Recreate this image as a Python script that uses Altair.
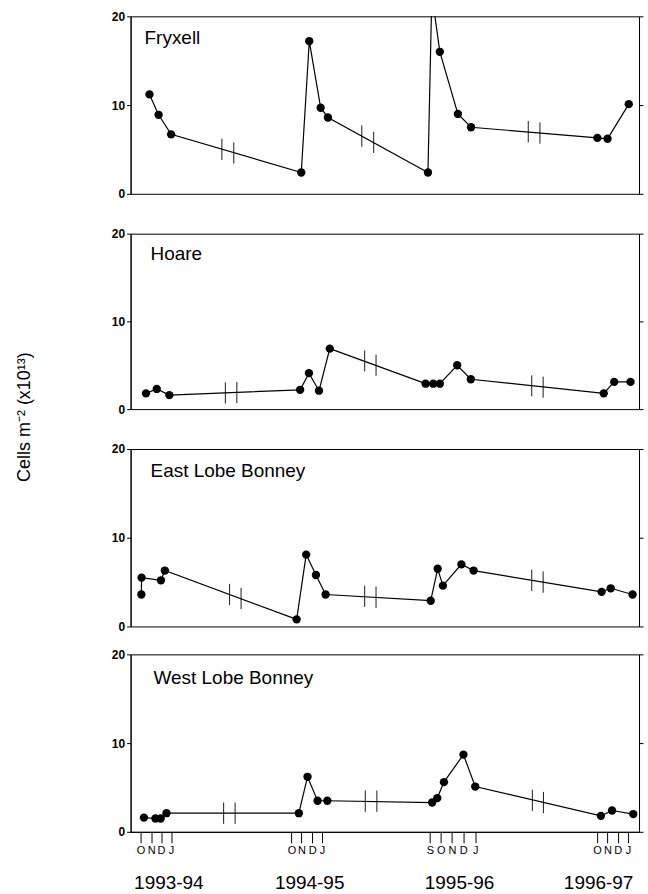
import altair as alt
import pandas as pd

# ---------------- data ----------------
# x position: months along the broken time axis, counted from its left edge
X_MAX = 49.57

fryxell_x = [1.84, 2.73, 3.95, 16.64, 17.42, 18.53, 19.24, 28.99, 29.37, 30.15, 31.91, 33.19, 45.51, 46.50, 48.57]
fryxell_y = [11.2, 8.9, 6.7, 2.4, 17.2, 9.7, 8.6, 2.4, 22.5, 16.0, 9.0, 7.5, 6.3, 6.2, 10.1]

hoare_x = [1.50, 2.55, 3.78, 16.53, 17.39, 18.37, 19.42, 28.76, 29.50, 30.15, 31.84, 33.17, 46.13, 47.15, 48.74]
hoare_y = [1.8, 2.3, 1.6, 2.2, 4.1, 2.1, 6.9, 2.9, 2.9, 2.9, 5.0, 3.4, 1.8, 3.1, 3.1]

east_x = [1.05, 1.07, 2.96, 3.34, 16.19, 17.12, 18.07, 19.01, 29.26, 29.94, 30.45, 32.25, 33.44, 45.92, 46.81, 48.94]
east_y = [3.6, 5.5, 5.2, 6.3, 0.8, 8.1, 5.8, 3.6, 2.9, 6.5, 4.6, 7.0, 6.3, 3.9, 4.3, 3.6]

west_x = [1.30, 2.42, 2.93, 3.50, 16.40, 17.25, 18.23, 19.18, 29.40, 29.90, 30.55, 32.45, 33.60, 45.85, 46.94, 49.01]
west_y = [1.6, 1.5, 1.5, 2.1, 2.1, 6.2, 3.5, 3.5, 3.3, 3.8, 5.6, 8.7, 5.1, 1.8, 2.4, 2.0]

# axis-break marks drawn across the line (position, value of line there)
fryxell_bx = [8.90, 10.06, 22.54, 23.70, 38.77, 39.91]
fryxell_by = [5.0, 4.6, 6.5, 5.8, 7.0, 6.85]
hoare_bx = [9.24, 10.36, 22.82, 23.93, 39.11, 40.22]
hoare_by = [1.85, 1.9, 5.5, 5.0, 2.65, 2.5]
east_bx = [9.65, 10.77, 22.82, 23.93, 39.11, 40.22]
east_by = [3.6, 3.15, 3.4, 3.3, 5.2, 5.0]
west_bx = [9.07, 10.19, 22.88, 24.01, 39.17, 40.25]
west_by = [2.1, 2.1, 3.45, 3.45, 3.55, 3.3]

month_tick_pos = [0.97, 2.0, 2.97, 3.94, 15.69, 16.66, 17.70, 18.67,
                  29.18, 30.25, 31.32, 32.43, 33.59, 45.47, 46.50, 47.50, 48.50]
month_tick_lab = ["O", "N", "D", "J", "O", "N", "D", "J",
                  "S", "O", "N", "D", "J", "O", "N", "D", "J"]

season_pos = [3.73, 17.46, 32.07, 45.63]
season_lab = ["1993-94", "1994-95", "1995-96", "1996-97"]

lake_names = ["Fryxell", "Hoare", "East Lobe Bonney", "West Lobe Bonney"]
y_title = "Cells m\u207b\u00b2 (x10\u00b9\u00b3)"

FONT = "Liberation Sans"

label_expr = ("[" + ",".join("'%s'" % s for s in month_tick_lab) + "][indexof(["
              + ",".join(repr(float(v)) for v in month_tick_pos) + "], datum.value)]")


def panel(name, xs, ys, bxs, bys, height, tdx, tdy, bottom=False, gap_below=0):
    pts = pd.DataFrame({"pos": xs, "val": ys})
    brk = pd.DataFrame({"pos": bxs, "val": bys})
    xscale = alt.Scale(domain=[0, X_MAX], nice=False, zero=False)
    yscale = alt.Scale(domain=[0, 20], nice=False, zero=True)

    if bottom:
        xaxis = alt.Axis(values=month_tick_pos, labelExpr=label_expr, tickSize=11,
                         labelPadding=2, labelFontSize=11, labelAngle=0, grid=False,
                         title=None, labelOverlap=False, labelFlush=False)
    else:
        xaxis = None

    yaxis = alt.Axis(title=None, values=[0, 10, 20], tickSize=4, labelFontSize=12,
                     labelFontWeight="bold", labelPadding=2, grid=False)
    yright = alt.Axis(orient="right", values=[0, 10, 20], tickSize=4, labels=False,
                      grid=False, title=None)

    X = alt.X("pos:Q", scale=xscale, axis=xaxis)

    line = alt.Chart(pts).mark_line(color="black", strokeWidth=1.2, clip=True).encode(
        x=X, y=alt.Y("val:Q", scale=yscale, axis=yaxis))
    dots = alt.Chart(pts).mark_circle(color="black", opacity=1, size=70, clip=True).encode(
        x=X, y=alt.Y("val:Q", scale=yscale, axis=None))
    marks = alt.Chart(brk).transform_calculate(
        lo="datum.val - 1.2", hi="datum.val + 1.2"
    ).mark_rule(color="black", strokeWidth=0.9, clip=True).encode(
        x=X, y=alt.Y("lo:Q", scale=yscale, axis=yright), y2="hi:Q")
    label = alt.Chart(pd.DataFrame({"t": [name]})).mark_text(
        align="left", baseline="alphabetic", fontSize=19, font=FONT, color="black"
    ).encode(text="t:N", x=alt.value(tdx), y=alt.value(tdy))

    layers = [line, dots, marks, label]
    if gap_below:
        spacer = alt.Chart(pd.DataFrame({"t": [0]})).mark_rule(color="white", strokeWidth=0.5).encode(
            x=alt.value(250), y=alt.value(height + 4), y2=alt.value(height + gap_below))
        layers.append(spacer)
    if bottom:
        years = alt.Chart(pd.DataFrame({"pos": season_pos, "lab": season_lab})).mark_text(
            align="center", baseline="middle", fontSize=19, font=FONT, color="black"
        ).encode(x=X, y=alt.value(height + 51), text="lab:N")
        layers.append(years)

    return alt.layer(*layers).resolve_axis(y="independent").properties(width=510, height=height)


p1 = panel(lake_names[0], fryxell_x, fryxell_y, fryxell_bx, fryxell_by, 178, 14, 28, gap_below=18)
p2 = panel(lake_names[1], hoare_x, hoare_y, hoare_bx, hoare_by, 176, 20, 26, gap_below=18)
p3 = panel(lake_names[2], east_x, east_y, east_bx, east_by, 178, 20, 28)
p4 = panel(lake_names[3], west_x, west_y, west_bx, west_by, 178, 23, 30, bottom=True)

stack = alt.vconcat(p1, p2, p3, p4, spacing=14)

ytitle = alt.Chart(pd.DataFrame({"t": [y_title]})).mark_text(
    angle=270, align="center", baseline="alphabetic", fontSize=18, font=FONT, color="black"
).encode(text="t:N", x=alt.value(26), y=alt.value(402)).properties(
    width=30, height=800, view=alt.ViewBackground(strokeOpacity=0))

chart = alt.hconcat(ytitle, stack, spacing=77).properties(
    padding={"left": 4, "top": 8, "right": 4, "bottom": 0},
    background="white",
).configure_view(
    stroke="black", strokeWidth=1
).configure_axis(
    domainColor="black", tickColor="black", labelColor="black", titleColor="black",
    labelFont=FONT, titleFont=FONT, domainWidth=1, tickWidth=1
)

chart.save("out.html", embed_options={"renderer": "svg", "actions": False})
